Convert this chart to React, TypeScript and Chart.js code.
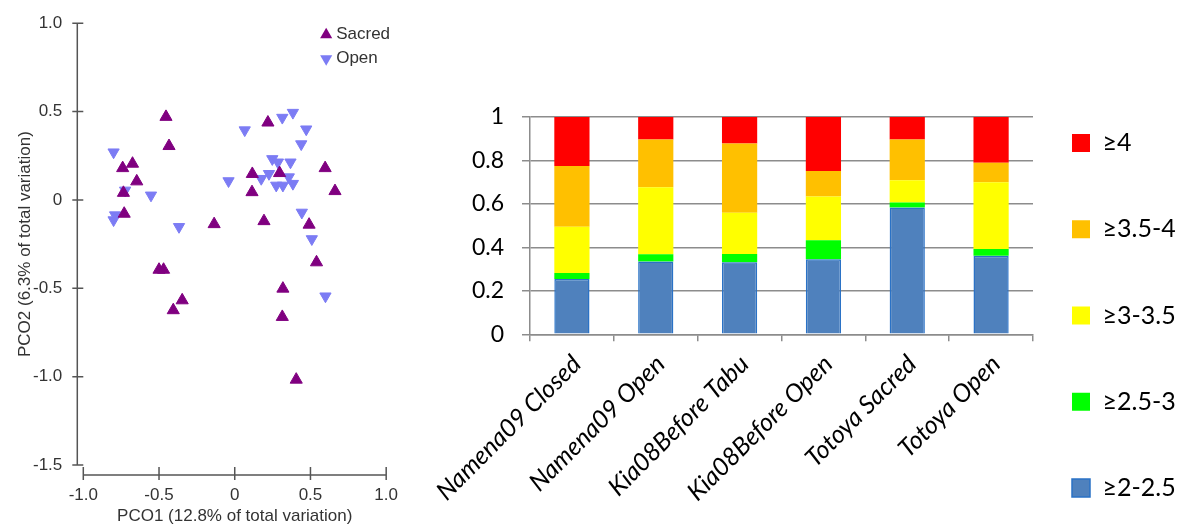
import React, { useEffect, useRef } from 'react';
import { Chart, registerables } from 'chart.js';

Chart.register(...registerables);

// ---------- PCO scatter data ----------
const sacredX = [-0.454, -0.434, -0.74, -0.675, -0.647, -0.735, -0.73, -0.136, 0.219, 0.116, 0.114, 0.296, 0.193, 0.597, 0.662, 0.491, 0.54, -0.5, -0.47, -0.347, -0.406, 0.318, 0.314, 0.406];
const sacredY = [0.47, 0.305, 0.18, 0.205, 0.105, 0.04, -0.078, -0.137, 0.438, 0.147, 0.044, 0.152, -0.12, 0.18, 0.05, -0.14, -0.353, -0.395, -0.395, -0.568, -0.624, -0.502, -0.662, -1.017];
const openX = [-0.8, -0.724, -0.79, -0.8, -0.553, -0.368, -0.041, 0.066, 0.175, 0.226, 0.248, 0.285, 0.314, 0.384, 0.368, 0.472, 0.439, 0.274, 0.318, 0.357, 0.384, 0.443, 0.509, 0.599];
const openY = [0.27, 0.054, -0.086, -0.114, 0.026, -0.152, 0.107, 0.395, 0.12, 0.148, 0.232, 0.213, 0.466, 0.494, 0.213, 0.4, 0.316, 0.082, 0.082, 0.129, 0.092, -0.071, -0.221, -0.545];
const pcoXTicks = [-1, -0.5, 0, 0.5, 1];
const pcoYTicks = [-1.5, -1, -0.5, 0, 0.5, 1];
const pcoSeriesNames = ['Sacred', 'Open'];

// ---------- stacked bar data ----------
const categories = ['Namena09 Closed', 'Namena09 Open', 'Kia08Before Tabu', 'Kia08Before Open', 'Totoya Sacred', 'Totoya Open'];
const bin2to25 = [0.255, 0.335, 0.332, 0.345, 0.584, 0.361];
const bin25to3 = [0.027, 0.033, 0.037, 0.088, 0.023, 0.031];
const bin3to35 = [0.213, 0.309, 0.19, 0.201, 0.102, 0.308];
const bin35to4 = [0.28, 0.219, 0.319, 0.118, 0.188, 0.09];
const bin4plus = [0.225, 0.104, 0.122, 0.248, 0.103, 0.21];
const binLabels = ['≥2-2.5', '≥2.5-3', '≥3-3.5', '≥3.5-4', '≥4'];
const binSeries = [bin2to25, bin25to3, bin3to35, bin35to4, bin4plus];
const binColors = ['#4F81BD', '#00FF00', '#FFFF00', '#FFC000', '#FF0000'];

const LEFT_FONT = '"Liberation Sans", Arial, sans-serif';
const RIGHT_FONT = 'Lato, "Open Sans", sans-serif';

const fmt1 = (v: number) => (v === 0 ? '0' : v.toFixed(1));
const fmtShare = (v: number) => String(Number(v.toFixed(1)));

const pcoDecor = {
  id: 'pcoDecor',
  afterDraw(chart: any) {
    const { ctx, chartArea, scales } = chart;
    const xs = scales.x;
    const ys = scales.y;
    ctx.save();
    ctx.strokeStyle = '#555555';
    ctx.lineWidth = 1.5;
    ctx.beginPath();
    const ax = chartArea.left - 6;
    ctx.moveTo(ax, ys.getPixelForValue(pcoYTicks[pcoYTicks.length - 1]));
    ctx.lineTo(ax, ys.getPixelForValue(pcoYTicks[0]));
    pcoYTicks.forEach((v) => {
      const p = ys.getPixelForValue(v);
      ctx.moveTo(ax - 5, p);
      ctx.lineTo(ax + 6, p);
    });
    const ay = chartArea.bottom + 10;
    ctx.moveTo(xs.getPixelForValue(pcoXTicks[0]), ay);
    ctx.lineTo(xs.getPixelForValue(pcoXTicks[pcoXTicks.length - 1]), ay);
    pcoXTicks.forEach((v) => {
      const p = xs.getPixelForValue(v);
      ctx.moveTo(p, ay - 8);
      ctx.lineTo(p, ay + 5);
    });
    ctx.stroke();

    // legend (inside plot area, top right)
    const lx = chartArea.right - 60;
    chart.data.datasets.forEach((ds: any, i: number) => {
      const cy = chartArea.top + 11.5 + i * 24;
      const r = 7;
      const down = ds.rotation === 180;
      ctx.beginPath();
      if (!down) {
        ctx.moveTo(lx, cy - r);
        ctx.lineTo(lx + r * 0.866, cy + r * 0.5);
        ctx.lineTo(lx - r * 0.866, cy + r * 0.5);
      } else {
        ctx.moveTo(lx, cy + r);
        ctx.lineTo(lx + r * 0.866, cy - r * 0.5);
        ctx.lineTo(lx - r * 0.866, cy - r * 0.5);
      }
      ctx.closePath();
      ctx.fillStyle = ds.backgroundColor;
      ctx.fill();
      ctx.fillStyle = '#333333';
      ctx.font = '17px ' + LEFT_FONT;
      ctx.textBaseline = 'middle';
      ctx.textAlign = 'left';
      ctx.fillText(ds.label, lx + 10, cy);
    });
    ctx.restore();
  },
};

export default function App() {
  const leftRef = useRef<HTMLCanvasElement | null>(null);
  const rightRef = useRef<HTMLCanvasElement | null>(null);

  useEffect(() => {
    if (!leftRef.current || !rightRef.current) return;

    const left = new Chart(leftRef.current, {
      type: 'scatter',
      data: {
        datasets: [
          {
            label: pcoSeriesNames[0],
            data: sacredX.map((x, i) => ({ x, y: sacredY[i] })),
            pointStyle: 'triangle',
            pointRadius: 7,
            pointHoverRadius: 7,
            backgroundColor: '#800080',
            borderColor: '#800080',
            borderWidth: 1,
          },
          {
            label: pcoSeriesNames[1],
            data: openX.map((x, i) => ({ x, y: openY[i] })),
            pointStyle: 'triangle',
            rotation: 180,
            pointRadius: 6.5,
            pointHoverRadius: 6.5,
            backgroundColor: '#7C7CF4',
            borderColor: '#7C7CF4',
            borderWidth: 1,
          },
        ],
      } as any,
      options: {
        animation: false,
        responsive: false,
        layout: { padding: { left: 0, top: 21.5, right: 23.3, bottom: 0 } },
        plugins: { legend: { display: false }, tooltip: { enabled: false } },
        scales: {
          x: {
            type: 'linear',
            min: -1,
            max: 1,
            grid: { display: false },
            border: { display: false },
            ticks: {
              stepSize: 0.5,
              padding: 12,
              color: '#333333',
              font: { family: LEFT_FONT, size: 17 },
              callback: (v: any) => fmt1(Number(v)),
            },
            title: {
              display: true,
              text: 'PCO1 (12.8% of total variation)',
              color: '#333333',
              font: { family: LEFT_FONT, size: 17 },
              padding: { top: 0, bottom: 0 },
            },
            afterFit: (s: any) => {
              s.height = 62;
            },
          },
          y: {
            type: 'linear',
            min: -1.5,
            max: 1,
            grid: { display: false },
            border: { display: false },
            ticks: {
              stepSize: 0.5,
              padding: 13,
              color: '#333333',
              font: { family: LEFT_FONT, size: 17 },
              callback: (v: any) => fmt1(Number(v)),
            },
            title: {
              display: true,
              text: 'PCO2 (6.3% of total variation)',
              color: '#333333',
              font: { family: LEFT_FONT, size: 17 },
              padding: { top: 15, bottom: 0 },
            },
            afterFit: (s: any) => {
              s.width = 83.3;
            },
          },
        },
      } as any,
      plugins: [pcoDecor],
    });

    // legend text width measurement to place plot area exactly
    const legendFont = 25;
    const mctx = document.createElement('canvas').getContext('2d') as CanvasRenderingContext2D;
    mctx.font = legendFont + 'px ' + RIGHT_FONT;
    const maxW = Math.max(...binLabels.map((t) => mctx.measureText(t).width));
    const legendPad = 39;
    const boxW = 18;
    const legendWidth = legendPad + boxW + legendFont / 2 + maxW + 10;
    const padR = 768 - 623 - legendWidth;
    const firstBoxCenter = 143;
    const padTop = firstBoxCenter - (legendFont / 2) - legendPad;
    const plotTop = 117;

    const gridColor = '#8C8C8C';
    const right = new Chart(rightRef.current, {
      type: 'bar',
      data: {
        labels: categories,
        datasets: binSeries.map((data, i) => ({
          label: binLabels[i],
          data,
          backgroundColor: binColors[i],
          borderColor: i === 0 ? '#2A72C6' : binColors[i],
          borderWidth: i === 0 ? 1.5 : 0,
          barPercentage: 0.42,
          categoryPercentage: 1,
        })),
      },
      options: {
        animation: false,
        responsive: false,
        layout: { padding: { top: padTop, right: padR, bottom: -50, left: 0 } },
        plugins: {
          tooltip: { enabled: false },
          legend: {
            position: 'right',
            align: 'start',
            reverse: true,
            labels: {
              boxWidth: boxW,
              boxHeight: 18,
              padding: legendPad,
              color: '#000000',
              font: { family: RIGHT_FONT, size: legendFont, lineHeight: 47.25 / legendFont },
              generateLabels: (chart: any) =>
                (Chart.defaults.plugins.legend.labels as any)
                  .generateLabels(chart)
                  .map((it: any) => ({ ...it, text: [it.text] })),
            },
          },
        },
        scales: {
          x: {
            stacked: true,
            grid: {
              display: true,
              drawOnChartArea: false,
              drawTicks: true,
              tickLength: 7,
              offset: true,
              color: gridColor,
              lineWidth: 1.5,
            },
            border: { display: true, color: gridColor, width: 1.5 },
            ticks: {
              autoSkip: false,
              maxRotation: 45,
              minRotation: 45,
              padding: 8,
              labelOffset: 5,
              color: '#000000',
              font: { family: RIGHT_FONT, size: 25, style: 'italic' },
            },
            afterFit: (s: any) => {
              s.height = 527 + 50 - 334.3;
              s.paddingLeft = 0;
              s.paddingRight = 0;
            },
          },
          xTop: {
            type: 'category',
            position: 'top',
            grid: { display: false },
            border: { display: false },
            ticks: { display: false },
            afterFit: (s: any) => {
              s.height = plotTop - padTop;
              s.paddingLeft = 0;
              s.paddingRight = 0;
            },
          },
          y: {
            stacked: true,
            min: 0,
            max: 1,
            grid: { color: gridColor, lineWidth: 1.5, tickLength: 8 },
            border: { display: true, color: gridColor, width: 1.5 },
            ticks: {
              stepSize: 0.2,
              padding: 18,
              color: '#000000',
              font: { family: RIGHT_FONT, size: 23 },
              callback: (v: any) => fmtShare(Number(v)),
            },
            afterFit: (s: any) => {
              s.width = 120;
            },
          },
        },
      } as any,
    });

    return () => {
      left.destroy();
      right.destroy();
    };
  }, []);

  return (
    <div style={{ position: 'absolute', left: 0, top: 0, width: 1178, height: 527, background: '#ffffff', overflow: 'hidden' }}>
      <canvas ref={leftRef} width={410} height={527} style={{ position: 'absolute', left: 0, top: 0, width: 410, height: 527 }} />
      <canvas ref={rightRef} width={768} height={527} style={{ position: 'absolute', left: 410, top: 0, width: 768, height: 527 }} />
    </div>
  );
}
